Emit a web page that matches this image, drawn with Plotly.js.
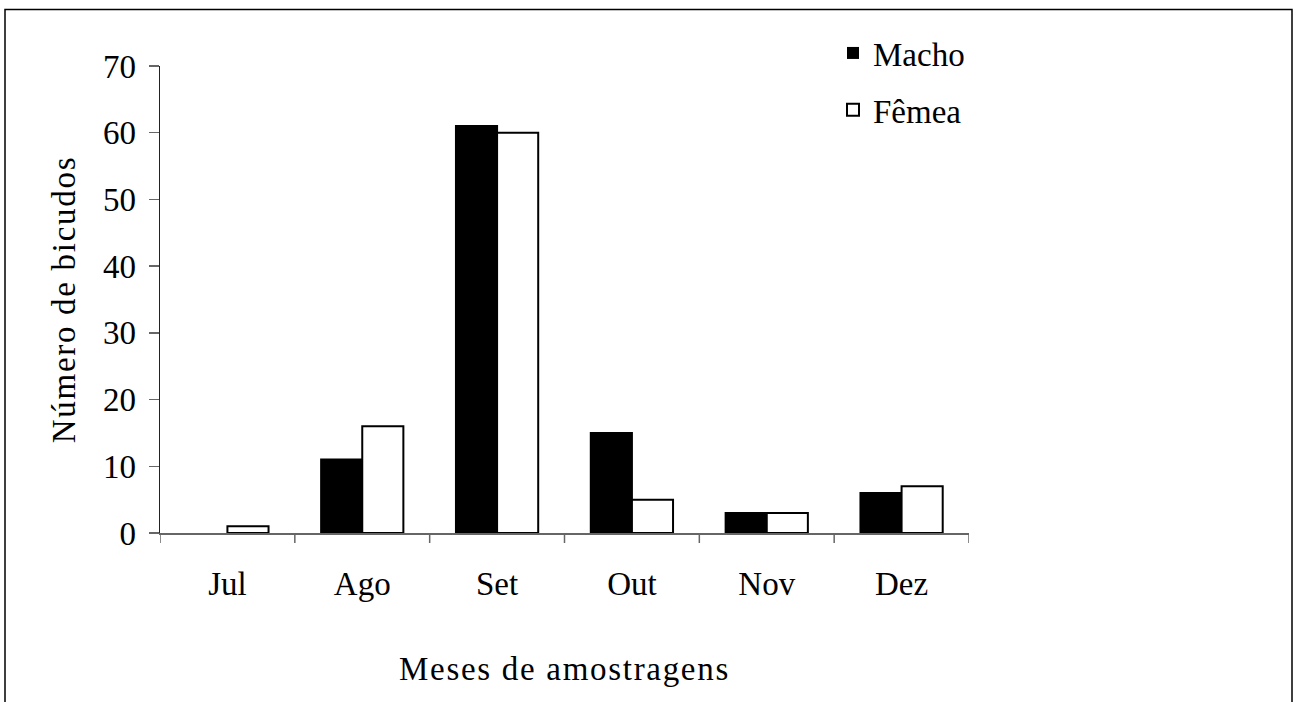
<!DOCTYPE html>
<html>
<head>
<meta charset="utf-8">
<script src="https://cdn.plot.ly/plotly-3.0.1.min.js"></script>
<style>
html,body{margin:0;padding:0;background:#fff;} #chart{width:1297px;height:702px;}
.g-xtitle text, .g-ytitle text {letter-spacing: 1.7px;}
</style>
</head>
<body>
<div id="chart"></div>
<script>
const months = ["Jul", "Ago", "Set", "Out", "Nov", "Dez"];
const macho = [0, 11, 61, 15, 3, 6];
const femea = [1, 16, 60, 5, 3, 7];
const yTicks = [0, 10, 20, 30, 40, 50, 60, 70];

const W = 1297, H = 702;
const L = 160, R = 969, T = 66, B = 533;
const pw = R - L, ph = B - T;
const px = v => (v - L) / pw;
const py = v => (B - v) / ph;

const font = "Liberation Serif";
const fs = 33;

const traces = [
  {type: "bar", name: "Macho", x: months, y: macho, legendgroup: "a",
   marker: {color: "#000", line: {color: "#000", width: macho.map(v => v === 0 ? 0 : 2)}}},
  {type: "bar", name: "Fêmea", x: months, y: femea, legendgroup: "b",
   marker: {color: "#fff", line: {color: "#000", width: femea.map(v => v === 0 ? 0 : 2)}}}
];

const layout = {
  width: W, height: H,
  margin: {l: L, r: W - R, t: T, b: H - B, pad: 0},
  paper_bgcolor: "#fff", plot_bgcolor: "#fff",
  font: {family: font, size: fs, color: "#000"},
  barmode: "group", bargap: 0.39, bargroupgap: 0,
  showlegend: true,
  legend: {x: px(833), y: py(25), xanchor: "left", yanchor: "top",
           font: {family: font, size: fs}, traceorder: "grouped", tracegroupgap: 11,
           itemwidth: 30, bgcolor: "rgba(0,0,0,0)"},
  xaxis: {
    type: "category", range: [-0.5, 5.5],
    showline: true, linecolor: "#666", linewidth: 1.5,
    ticks: "", showgrid: false, zeroline: false,
    tickfont: {family: font, size: fs}, ticklabelstandoff: 21,
    title: {text: "Meses de amostragens", font: {family: font, size: fs}, standoff: 56}
  },
  yaxis: {
    range: [0, 70], tickvals: yTicks, ticktext: yTicks.map(String),
    showline: true, linecolor: "#222", linewidth: 1.5,
    ticks: "outside", ticklen: 10, tickcolor: "#666", tickwidth: 1.5,
    showgrid: false, zeroline: false,
    tickfont: {family: font, size: fs}, ticklabelstandoff: 6,
    title: {text: "Número de bicudos", font: {family: font, size: fs}, standoff: 17}
  },
  shapes: [
    {type: "rect", xref: "paper", yref: "paper",
     x0: px(5), x1: px(1292), y0: py(712), y1: py(9.5),
     line: {color: "#000", width: 1.5}, fillcolor: "rgba(0,0,0,0)"}
  ].concat([0,1,2,3,4,5,6].map(i => ({
     type: "line", xref: "x", yref: "paper",
     x0: i - 0.5, x1: i - 0.5, y0: 0, y1: -10 / ph,
     line: {color: "#666", width: 1.5}
  })))
};

Plotly.newPlot("chart", traces, layout, {displayModeBar: false, staticPlot: true});
</script>
</body>
</html>
